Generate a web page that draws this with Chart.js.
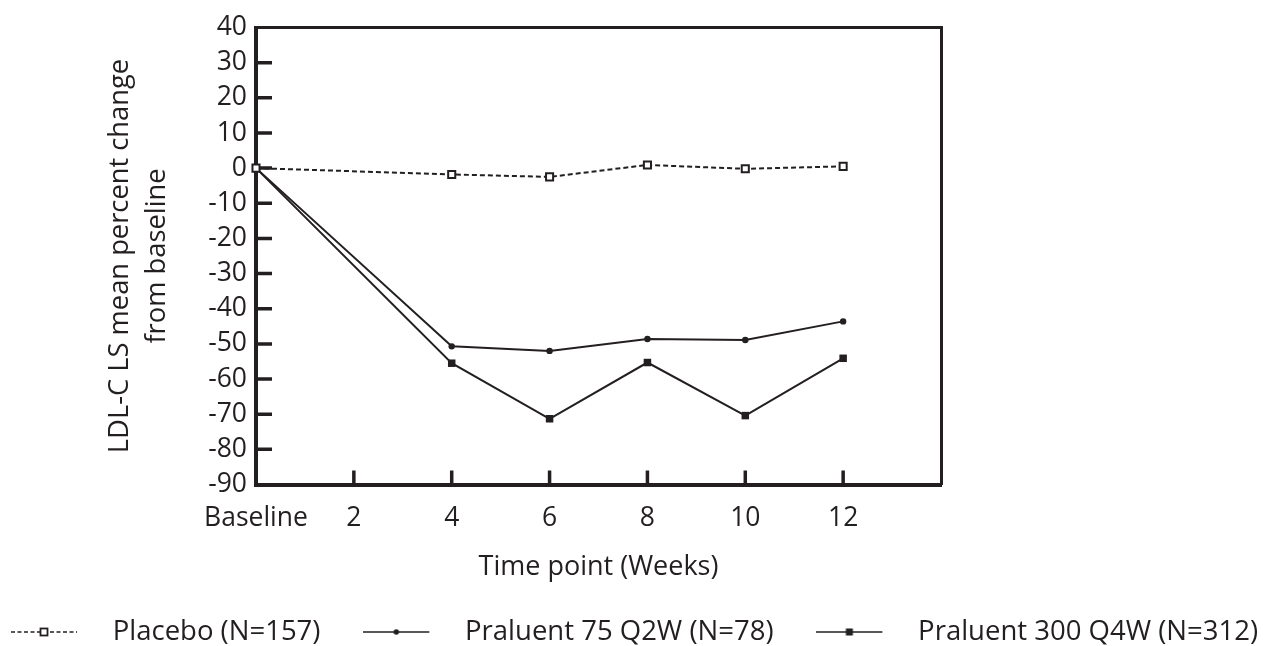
<!DOCTYPE html>
<html>
<head>
<meta charset="utf-8">
<script src="https://cdn.jsdelivr.net/npm/chart.js@4.4.1/dist/chart.umd.min.js"></script>
<style>
  html, body { margin: 0; padding: 0; background: #fff; }
  #wrap { width: 1269px; height: 646px; }
</style>
</head>
<body>
<div id="wrap"><canvas id="c"></canvas></div>
<script>
// data
const weeks = [0, 4, 6, 8, 10, 12];
const placebo = [0, -1.8, -2.5, 0.9, -0.2, 0.5];
const praluent75 = [0, -50.7, -52.0, -48.6, -48.9, -43.6];
const praluent300 = [0, -55.5, -71.3, -55.3, -70.4, -54.1];
const seriesLabels = ['Placebo (N=157)', 'Praluent 75 Q2W (N=78)', 'Praluent 300 Q4W (N=312)'];
const yTitle = ['LDL-C LS mean percent change', 'from baseline'];
const xTitle = 'Time point (Weeks)';
const baselineLabel = 'Baseline';

const INK = '#231f20';
const FONT = "'Open Sans'";
const FS = 26.5;
const LEGEND_FS = 27.5;
const GAP = '      '; // room between legend entries

function pts(vals) { return weeks.map((w, i) => ({ x: w, y: vals[i] })); }

// legend sample: short line with the marker in the middle
function makeIcon(kind) {
  const len = 66, tail = 22, h = 14;
  const c = document.createElement('canvas');
  c.width = len + tail; c.height = h;
  const g = c.getContext('2d');
  const cy = h / 2, cx = len / 2;
  g.strokeStyle = INK; g.fillStyle = INK; g.lineWidth = 1.7;
  if (kind === 'dash') g.setLineDash([4, 2.5]);
  g.beginPath(); g.moveTo(0, cy); g.lineTo(len, cy); g.stroke();
  g.setLineDash([]);
  if (kind === 'dash') {
    g.fillStyle = '#fff'; g.fillRect(cx - 3.5, cy - 3.5, 7, 7);
    g.lineWidth = 1.8; g.strokeRect(cx - 3.5, cy - 3.5, 7, 7);
  } else if (kind === 'dot') {
    g.beginPath(); g.arc(cx, cy, 2.7, 0, Math.PI * 2); g.fill();
  } else {
    g.fillRect(cx - 3.5, cy - 3.5, 7, 7);
  }
  return c;
}
const icons = [makeIcon('dash'), makeIcon('dot'), makeIcon('sq')];

const innerTicks = {
  id: 'innerTicks',
  beforeDatasetsDraw(chart) {
    const { ctx, chartArea, scales: { x, y } } = chart;
    ctx.save();
    ctx.strokeStyle = INK;
    ctx.lineWidth = 3.5;
    ctx.beginPath();
    y.ticks.forEach(t => {
      if (t.value <= y.min || t.value >= y.max) return;
      const py = y.getPixelForValue(t.value);
      ctx.moveTo(chartArea.left, py); ctx.lineTo(chartArea.left + 16, py);
    });
    x.ticks.forEach(t => {
      if (t.value <= x.min || t.value >= x.max) return;
      const px = x.getPixelForValue(t.value);
      ctx.moveTo(px, chartArea.bottom); ctx.lineTo(px, chartArea.bottom - 14);
    });
    ctx.stroke();
    ctx.restore();
  }
};

new Chart(document.getElementById('c'), {
  type: 'line',
  data: {
    datasets: [
      {
        label: seriesLabels[0], data: pts(placebo),
        borderColor: INK, borderWidth: 2, borderDash: [5, 3],
        pointStyle: 'rect', pointRadius: 5, pointBorderWidth: 2,
        pointBackgroundColor: '#fff', pointBorderColor: INK, clip: false
      },
      {
        label: seriesLabels[1], data: pts(praluent75),
        borderColor: INK, borderWidth: 2,
        pointStyle: 'circle', pointRadius: 3.2, pointBorderWidth: 0,
        pointBackgroundColor: INK, clip: false
      },
      {
        label: seriesLabels[2], data: pts(praluent300),
        borderColor: INK, borderWidth: 2,
        pointStyle: 'rect', pointRadius: 5.3, pointBorderWidth: 0,
        pointBackgroundColor: INK, clip: false
      }
    ]
  },
  options: {
    responsive: true, maintainAspectRatio: false,
    animation: false,
    layout: { padding: { left: 0, top: 0, right: 0, bottom: -9.75 } },
    plugins: {
      tooltip: { enabled: false },
      legend: {
        position: 'bottom',
        labels: {
          usePointStyle: true,
          pointStyleWidth: icons[0].width,
          padding: 0,
          color: INK,
          font: { family: FONT, size: LEGEND_FS },
          generateLabels: chart => Chart.defaults.plugins.legend.labels.generateLabels(chart)
            .map((it, i) => Object.assign(it, {
              pointStyle: icons[i], fontColor: INK,
              text: it.text + (i < seriesLabels.length - 1 ? GAP : '')
            }))
        }
      }
    },
    scales: {
      x: {
        type: 'linear', position: 'bottom', min: 0, max: 14,
        afterFit: s => { s.height = 133.75; },
        grid: { display: false, drawTicks: false },
        border: { display: true, color: INK, width: 4 },
        ticks: {
          stepSize: 2, color: INK, padding: 18, maxRotation: 0, autoSkip: false,
          font: { family: FONT, size: FS },
          callback: v => v === 0 ? baselineLabel : (v >= 14 ? '' : v)
        },
        title: {
          display: true, text: xTitle, color: INK,
          font: { family: FONT, size: 27 }, padding: { top: 0, bottom: 34.8 }
        }
      },
      xTop: {
        type: 'linear', position: 'top', min: 0, max: 14, display: true,
        afterFit: s => { s.height = 27.5; },
        grid: { display: false, drawTicks: false },
        border: { display: true, color: INK, width: 3 },
        ticks: { display: false }
      },
      y: {
        min: -90, max: 40,
        afterFit: s => { s.width = 256; },
        grid: { display: false, drawTicks: false },
        border: { display: true, color: INK, width: 4 },
        ticks: {
          stepSize: 10, color: INK, padding: 9, autoSkip: false,
          font: { family: FONT, size: FS }
        },
        title: {
          display: true, text: yTitle, color: INK,
          font: { family: FONT, size: 27.3, lineHeight: 1.35 }, padding: { top: 102, bottom: 0 }
        }
      },
      yRight: {
        position: 'right', min: 0, max: 1, display: true,
        afterFit: s => { s.width = 328; },
        grid: { display: false, drawTicks: false },
        border: { display: true, color: INK, width: 3 },
        ticks: { display: false }
      }
    }
  },
  plugins: [innerTicks]
});
</script>
</body>
</html>
